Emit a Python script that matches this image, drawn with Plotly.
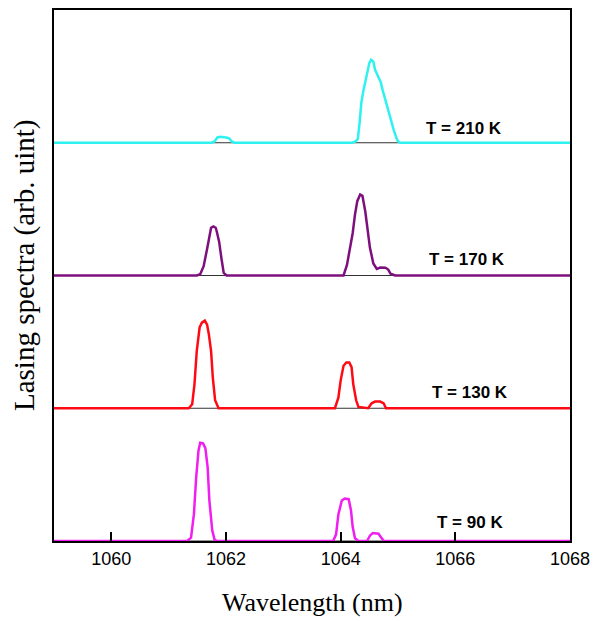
import plotly.graph_objects as go

# Wavelength axis range (nm)
x_min, x_max = 1059, 1068

# Series labels, colours, vertical offsets
labels = ["T = 90 K", "T = 130 K", "T = 170 K", "T = 210 K"]
offsets = [0, 1, 2, 3]
colors = ["#F01EF0", "#FF0A14", "#7D107D", "#2EF2F0"]

# 90 K spectrum (peak regions)
wl_90 = [1061.32, 1061.39, 1061.44, 1061.48, 1061.52, 1061.55, 1061.60, 1061.64, 1061.68, 1061.71,
         1061.76, 1061.80, 1061.84,
         1063.87, 1063.92, 1063.96, 1064.02, 1064.07, 1064.14, 1064.18, 1064.21, 1064.25, 1064.31,
         1064.46, 1064.51, 1064.56, 1064.66, 1064.70, 1064.75]
int_90 = [0.0, 0.025, 0.20, 0.48, 0.68, 0.74, 0.735, 0.70, 0.555, 0.305,
          0.08, 0.01, 0.0,
          0.0, 0.05, 0.20, 0.305, 0.32, 0.315, 0.23, 0.105, 0.02, 0.0,
          0.0, 0.04, 0.06, 0.055, 0.03, 0.0]

# 130 K spectrum
wl_130 = [1061.35, 1061.41, 1061.45, 1061.49, 1061.54, 1061.58, 1061.63, 1061.67, 1061.70, 1061.74,
          1061.77, 1061.81, 1061.87,
          1063.90, 1063.96, 1064.00, 1064.05, 1064.10, 1064.15, 1064.19, 1064.22, 1064.27, 1064.31,
          1064.48, 1064.54, 1064.60, 1064.69, 1064.75, 1064.79]
int_130 = [0.0, 0.03, 0.18, 0.43, 0.61, 0.645, 0.66, 0.63, 0.56, 0.43,
           0.23, 0.06, 0.0,
           0.0, 0.08, 0.21, 0.32, 0.345, 0.345, 0.31, 0.18, 0.06, 0.01,
           0.0, 0.037, 0.05, 0.05, 0.037, 0.0]

# 170 K spectrum
wl_170 = [1061.49, 1061.55, 1061.61, 1061.67, 1061.71, 1061.74, 1061.78, 1061.82, 1061.84, 1061.88,
          1061.92, 1061.96, 1062.01,
          1064.05, 1064.11, 1064.17, 1064.21, 1064.25, 1064.29, 1064.34, 1064.38, 1064.43, 1064.47,
          1064.51, 1064.57, 1064.63, 1064.69, 1064.78, 1064.83, 1064.87, 1064.95]
int_170 = [0.0, 0.01, 0.07, 0.20, 0.30, 0.36, 0.37, 0.36, 0.33, 0.255,
           0.13, 0.02, 0.0,
           0.0, 0.08, 0.21, 0.32, 0.46, 0.56, 0.61, 0.60, 0.48, 0.36,
           0.21, 0.09, 0.05, 0.06, 0.058, 0.045, 0.013, 0.0]

# 210 K spectrum
wl_210 = [1061.75, 1061.80, 1061.85, 1061.90, 1061.95, 1062.00, 1062.05, 1062.10, 1062.15,
          1064.20, 1064.26, 1064.30, 1064.33, 1064.36, 1064.40, 1064.43, 1064.47, 1064.50, 1064.53,
          1064.57, 1064.60, 1064.63, 1064.67, 1064.70, 1064.73, 1064.77, 1064.80, 1064.83, 1064.87,
          1064.90, 1064.93, 1064.97, 1065.00, 1065.04]
int_210 = [0.0, 0.01, 0.04, 0.045, 0.045, 0.04, 0.035, 0.01, 0.0,
           0.0, 0.01, 0.03, 0.15, 0.30, 0.40, 0.46, 0.53, 0.60, 0.625,
           0.61, 0.55, 0.52, 0.49, 0.455, 0.40, 0.34, 0.29, 0.23, 0.18,
           0.13, 0.09, 0.04, 0.01, 0.0]

# Label positions (wavelength, height above baseline)
label_x = [1066.25, 1066.25, 1066.2, 1066.15]
label_dy = [0.14, 0.12, 0.12, 0.11]

series_wl = [wl_90, wl_130, wl_170, wl_210]
series_int = [int_90, int_130, int_170, int_210]

fig = go.Figure()

for off in offsets:
    fig.add_trace(go.Scatter(x=[x_min, x_max], y=[off, off], mode="lines",
                             line=dict(color="#333333", width=1), showlegend=False,
                             hoverinfo="skip"))

for wl, iy, off, col in zip(series_wl, series_int, offsets, colors):
    xs = [x_min] + wl + [x_max]
    ys = [off] + [off + v for v in iy] + [off]
    fig.add_trace(go.Scatter(x=xs, y=ys, mode="lines",
                             line=dict(color=col, width=2.5), showlegend=False))

for lab, lx, dy, off in zip(labels, label_x, label_dy, offsets):
    fig.add_annotation(x=lx, y=off + dy, text="<b>" + lab + "</b>", showarrow=False,
                       font=dict(family="Liberation Sans, Arial", size=17, color="black"),
                       xanchor="center", yanchor="middle")

# axis titles as paper annotations
fig.add_annotation(x=0.5, xref="paper", y=-0.115, yref="paper", text="Wavelength (nm)",
                   showarrow=False, xanchor="center", yanchor="middle",
                   font=dict(family="Liberation Serif, Times New Roman", size=26, color="black"))
fig.add_annotation(x=-0.057, xref="paper", y=0.519, yref="paper", text="Lasing spectra (arb. uint)",
                   textangle=-90, showarrow=False, xanchor="center", yanchor="middle",
                   font=dict(family="Liberation Serif, Times New Roman", size=29, color="black"))

fig.update_layout(
    width=603, height=621,
    margin=dict(l=54, r=33, t=8, b=80),
    paper_bgcolor="white", plot_bgcolor="white",
    showlegend=False,
    xaxis=dict(range=[x_min, x_max], tick0=1060, dtick=2, ticks="inside", ticklen=9,
               tickwidth=2, tickcolor="black", showline=True, linewidth=2, linecolor="black",
               mirror=True, showgrid=False, zeroline=False,
               tickfont=dict(family="Liberation Sans, Arial", size=18, color="black")),
    yaxis=dict(range=[0, 4], showticklabels=False, ticks="", showline=True, linewidth=2,
               linecolor="black", mirror=True, showgrid=False, zeroline=False),
)

fig.write_html("out.html", config={"displayModeBar": False},
               post_script="document.body.style.margin='0';")
